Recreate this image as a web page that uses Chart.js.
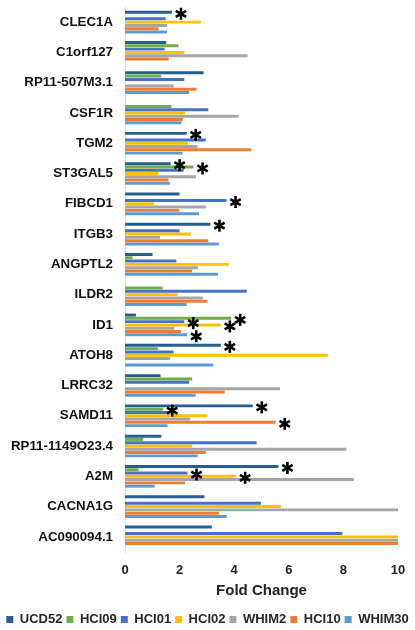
<!DOCTYPE html>
<html>
<head>
<meta charset="utf-8">
<script src="https://cdn.jsdelivr.net/npm/chart.js@4.4.1/dist/chart.umd.min.js"></script>
<style>
  html, body { margin: 0; padding: 0; background: #ffffff; }
  #wrap { width: 415px; height: 630px; }
</style>
</head>
<body>
<div id="wrap"><canvas id="c" width="415" height="630"></canvas></div>
<script>
const categories = ['CLEC1A','C1orf127','RP11-507M3.1','CSF1R','TGM2','ST3GAL5','FIBCD1','ITGB3','ANGPTL2','ILDR2','ID1','ATOH8','LRRC32','SAMD11','RP11-1149O23.4','A2M','CACNA1G','AC090094.1'];
const seriesNames = ['UCD52','HCI09','HCI01','HCI02','WHIM2','HCI10','WHIM30'];
const UCD52  = [1.72, 1.51, 2.88, null, 2.26, 1.67, 2.00, 3.13, 1.01, null, 0.40, 3.51, 1.30, 4.68, 1.33, 5.62, 2.91, 3.18];
const HCI09  = [null, 1.96, 1.33, 1.70, null, 2.51, null, null, 0.28, 1.38, 3.89, 1.20, 2.46, 1.40, 0.67, 0.50, null, null];
const HCI01  = [1.49, 1.45, 2.17, 3.05, 2.96, 2.15, 3.72, 2.00, 1.88, 4.46, 2.17, 1.78, 2.35, 1.62, 4.82, 2.29, 4.98, 7.96];
const HCI02  = [2.78, 2.17, null, 2.20, 2.30, 1.22, 1.06, 2.41, 3.80, 1.93, 3.51, 7.43, null, 3.02, 2.46, 4.07, 5.71, 10];
const WHIM2  = [1.54, 4.49, 1.78, 4.16, 2.66, 2.60, 2.96, 1.28, 2.67, 2.85, 1.80, 1.65, 5.68, 2.39, 8.11, 8.38, 10, 10];
const HCI10  = [1.22, 1.60, 2.62, 2.12, 4.63, 1.59, 1.99, 3.05, 2.46, 3.02, 2.05, null, 3.65, 5.52, 2.96, 2.20, 3.44, 10];
const WHIM30 = [1.54, null, 2.35, 2.07, 2.11, 1.65, 2.71, 3.44, 3.41, 2.26, 2.28, 3.24, 2.59, 1.56, 2.66, 1.09, 3.73, null];
const xTicks = [0, 2, 4, 6, 8, 10];
// significance markers: [category index, series index]
const significant = [[0,0],[4,0],[5,0],[5,1],[6,2],[7,0],[10,1],[10,2],[10,3],[10,6],[11,0],[13,0],[13,1],[13,5],[15,0],[15,2],[15,3]];

const seriesValues = [UCD52, HCI09, HCI01, HCI02, WHIM2, HCI10, WHIM30];
const colors = ['#255E91','#70AD47','#4472C4','#FFC000','#A5A5A5','#ED7D31','#5B9BD5'];
const FONT = 'Arial, "Liberation Sans", sans-serif';

const starPlugin = {
  id: 'stars',
  afterDatasetsDraw(chart) {
    const ctx = chart.ctx;
    ctx.save();
    ctx.strokeStyle = '#000000';
    ctx.lineWidth = 2.6;
    ctx.lineCap = 'butt';
    significant.forEach(([ci, si]) => {
      const el = chart.getDatasetMeta(si).data[ci];
      if (!el) return;
      const cx = el.x + 9, cy = el.y + 1.5, r = 6;
      [90, 30, 150].forEach(a => {
        const rad = a * Math.PI / 180;
        const dx = Math.cos(rad) * r, dy = Math.sin(rad) * r;
        ctx.beginPath();
        ctx.moveTo(cx - dx, cy - dy);
        ctx.lineTo(cx + dx, cy + dy);
        ctx.stroke();
      });
    });
    ctx.restore();
  }
};

new Chart(document.getElementById('c'), {
  type: 'bar',
  data: {
    labels: categories,
    datasets: seriesNames.map((n, i) => ({
      label: n,
      data: seriesValues[i],
      backgroundColor: colors[i],
      borderWidth: 0,
      categoryPercentage: 0.76,
      barPercentage: 0.9
    }))
  },
  plugins: [starPlugin],
  options: {
    indexAxis: 'y',
    responsive: false,
    animation: false,
    devicePixelRatio: 1,
    layout: { padding: { top: 7, right: 0, left: 0, bottom: -6 } },
    plugins: {
      tooltip: { enabled: false },
      legend: {
        position: 'bottom',
        labels: {
          boxWidth: 7, boxHeight: 7, padding: 4,
          color: '#262626',
          font: { family: FONT, size: 13, weight: 'bold' }
        }
      }
    },
    scales: {
      x: {
        min: 0, max: 10,
        afterBuildTicks(scale) { scale.ticks = xTicks.map(v => ({ value: v })); },
        grid: { display: false, drawTicks: false },
        border: { display: false },
        ticks: { color: '#222222', padding: 11, font: { family: FONT, size: 13, weight: 'bold' } },
        title: { display: true, text: 'Fold Change', color: '#222222', padding: { top: 4, bottom: 9 }, font: { family: FONT, size: 15, weight: 'bold' } },
        afterFit(scale) { scale.height = 57; scale.paddingLeft = 0; scale.paddingRight = 17; }
      },
      y: {
        grid: { display: false, drawTicks: false },
        border: { display: true, color: '#D9D9D9', width: 1 },
        ticks: { color: '#111111', padding: 12, autoSkip: false, font: { family: FONT, size: 13.3, weight: 'bold' } },
        afterFit(scale) { scale.width = 125; scale.paddingTop = 0; scale.paddingBottom = 0; }
      }
    }
  }
});
</script>
</body>
</html>
